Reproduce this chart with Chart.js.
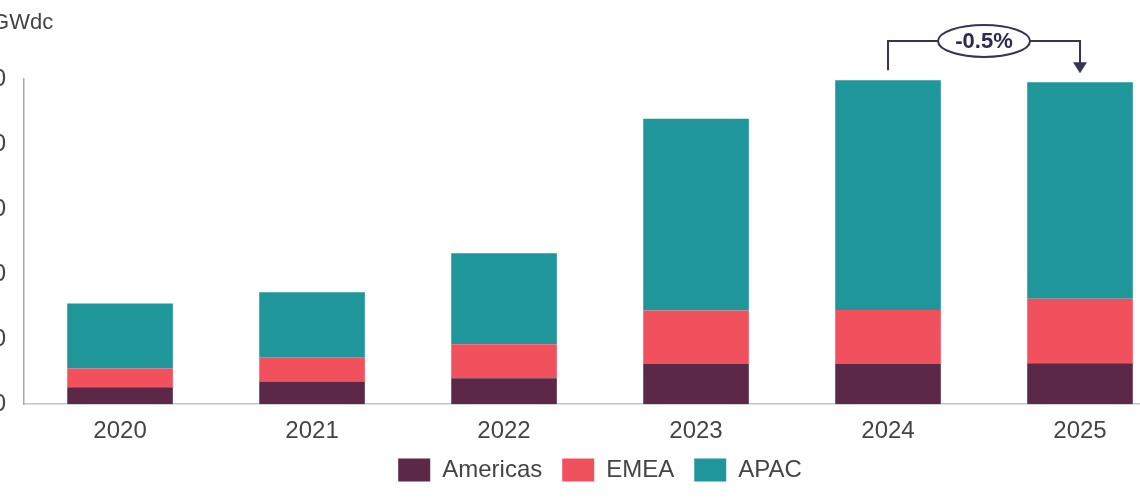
<!DOCTYPE html>
<html>
<head>
<meta charset="utf-8">
<script src="https://cdn.jsdelivr.net/npm/chart.js@4.4.1/dist/chart.umd.min.js"></script>
<style>
  html, body { margin: 0; padding: 0; background: #fff; overflow: hidden; }
  #wrap { position: absolute; left: -52px; top: 0; width: 1228px; height: 500px; }
</style>
</head>
<body>
<div id="wrap"><canvas id="installChart"></canvas></div>
<script>
// data (GWdc)
const years = ['2020', '2021', '2022', '2023', '2024', '2025'];
const americas = [26, 35, 40, 62, 62, 63];
const emea = [29, 37, 52, 82, 83, 99];
const apac = [100, 100, 140, 295, 353, 333];
const yTicks = [0, 100, 200, 300, 400, 500];
const changeLabel = '-0.5%';

const totals = years.map((y, i) => americas[i] + emea[i] + apac[i]);
const fontFamily = '"Liberation Sans", Arial, sans-serif';

// bracket with % change between 2024 and 2025
const bracketPlugin = {
  id: 'bracket',
  afterDatasetsDraw(chart) {
    const { ctx, scales: { x, y } } = chart;
    const x1 = x.getPixelForValue(4);
    const x2 = x.getPixelForValue(5);
    const top1 = y.getPixelForValue(totals[4]) - 10;
    const top2 = y.getPixelForValue(totals[5]) - 10;
    const lineY = 41;
    const navy = '#34335a';
    ctx.save();
    ctx.strokeStyle = navy;
    ctx.lineWidth = 2;
    ctx.beginPath();
    ctx.moveTo(x1, top1);
    ctx.lineTo(x1, lineY);
    ctx.lineTo(x2, lineY);
    ctx.lineTo(x2, top2 - 8);
    ctx.stroke();
    // arrow head
    ctx.fillStyle = navy;
    ctx.beginPath();
    ctx.moveTo(x2 - 7, top2 - 10);
    ctx.lineTo(x2 + 7, top2 - 10);
    ctx.lineTo(x2, top2 + 1);
    ctx.closePath();
    ctx.fill();
    // ellipse label
    const cx = (x1 + x2) / 2;
    ctx.beginPath();
    ctx.ellipse(cx, lineY, 46, 16, 0, 0, Math.PI * 2);
    ctx.fillStyle = '#fff';
    ctx.fill();
    ctx.stroke();
    ctx.fillStyle = '#2d2a50';
    ctx.font = 'bold 22px ' + fontFamily;
    ctx.textAlign = 'center';
    ctx.textBaseline = 'middle';
    ctx.fillText(changeLabel, cx, lineY + 1);
    ctx.restore();
  }
};

// unit label at top left
const unitPlugin = {
  id: 'unit',
  afterDraw(chart) {
    const { ctx, chartArea } = chart;
    ctx.save();
    ctx.fillStyle = '#444';
    ctx.font = '22px ' + fontFamily;
    ctx.textBaseline = 'middle';
    ctx.textAlign = 'left';
    ctx.fillText('GWdc', chartArea.left - 32, 23);
    ctx.restore();
  }
};

const ctx = document.getElementById('installChart');
new Chart(ctx, {
  type: 'bar',
  data: {
    labels: years,
    datasets: [
      { label: 'Americas', data: americas, backgroundColor: '#5b2847' },
      { label: 'EMEA', data: emea, backgroundColor: '#f1505d' },
      { label: 'APAC', data: apac, backgroundColor: '#1f9699' },
    ],
  },
  options: {
    responsive: true,
    maintainAspectRatio: false,
    animation: false,
    layout: { padding: { top: 79, right: 0, bottom: 8, left: 0 } },
    datasets: { bar: { barPercentage: 0.55, categoryPercentage: 1 } },
    scales: {
      x: {
        stacked: true,
        grid: { display: false, drawTicks: false },
        border: { color: '#c4c4c4', width: 1.5 },
        afterFit: (axis) => { axis.height -= 21; },
        ticks: {
          color: '#444',
          padding: 13,
          font: { size: 24, family: fontFamily },
        },
      },
      y: {
        stacked: true,
        min: 0,
        max: 500,
        afterBuildTicks: (axis) => { axis.ticks = yTicks.map(v => ({ value: v })); },
        grid: { display: false, drawTicks: false },
        border: { color: '#a8a8a8', width: 1.5 },
        ticks: {
          color: '#444',
          padding: 18,
          font: { size: 24, family: fontFamily },
        },
      },
    },
    plugins: {
      legend: {
        position: 'bottom',
        fullSize: false,
        labels: {
          boxWidth: 32,
          boxHeight: 23,
          padding: 20,
          color: '#444',
          font: { size: 24, family: fontFamily },
        },
      },
      tooltip: { enabled: false },
    },
  },
  plugins: [bracketPlugin, unitPlugin],
});
</script>
</body>
</html>
